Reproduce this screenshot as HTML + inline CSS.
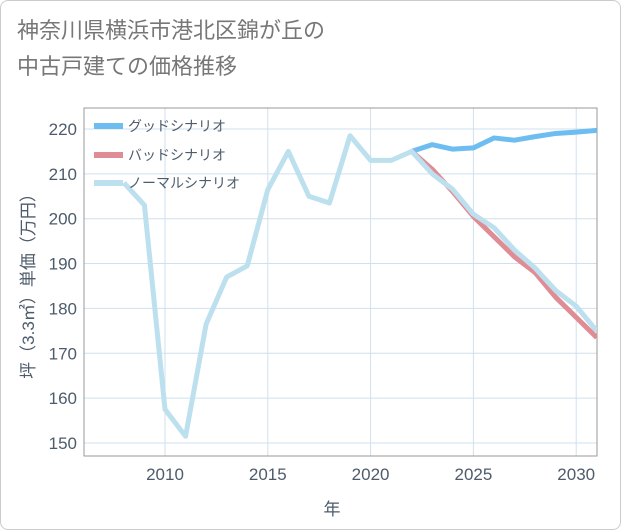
<!DOCTYPE html>
<html><head><meta charset="utf-8"><style>
body{margin:0;background:#fff;}
.wrap{position:relative;width:619px;height:528px;border:1px solid #ccc;border-radius:8px;background:#fff;overflow:hidden;}
.title{position:absolute;left:16px;top:12px;font:22px "Liberation Sans","Noto Sans CJK JP",sans-serif;color:#777;line-height:36px;}
svg text{font-family:"Liberation Sans","Noto Sans CJK JP",sans-serif;}
</style></head><body>
<div class="wrap">
<div class="title">神奈川県横浜市港北区錦が丘の<br>中古戸建ての価格推移</div>
<svg id="chart" width="621" height="530" style="position:absolute;left:-1px;top:-1px"></svg>
</div>
<script>
const years=[2006,2010,2015,2020,2025,2030];
const yTicks=[150,160,170,180,190,200,210,220];
const normalYears=[2008,2009,2010,2011,2012,2013,2014,2015,2016,2017,2018,2019,2020,2021,2022,2023,2024,2025,2026,2027,2028,2029,2030,2031];
const normalVals=[208,203,157.5,151.5,176.5,187,189.5,206.5,215,205,203.5,218.5,213,213,215,210,206.5,201,198,193,189,184,180.5,175];
const scenYears=[2022,2023,2024,2025,2026,2027,2028,2029,2030,2031];
const goodVals=[215,216.5,215.5,215.8,218,217.5,218.3,219,219.3,219.7];
const badVals=[215,211,206,200.5,196,191.5,188,182.5,178,173.5];
const NS='http://www.w3.org/2000/svg';
const svg=document.getElementById('chart');
const L=84,R=597,T=108,B=456;
const x=yr=>165+(yr-2010)*20.56;
const y=v=>443-(v-150)*4.486;
const TXT='#4d5b6b';
function mk(tag,attrs,parent){const e=document.createElementNS(NS,tag);for(const k in attrs)e.setAttribute(k,attrs[k]);(parent||svg).appendChild(e);return e;}
const grid=mk('g',{});


yTicks.forEach(t=>{
 mk('line',{x1:L,x2:R,y1:y(t),y2:y(t),stroke:'#cfe0ee','stroke-width':1},grid);
 const tx=mk('text',{x:L-7,y:y(t)+6,'text-anchor':'end','font-size':17,fill:TXT});
 tx.textContent=t;
 
 
});
years.slice(1).forEach(t=>{
 mk('line',{x1:x(t),x2:x(t),y1:T,y2:B,stroke:'#cfe0ee','stroke-width':1},grid);
 const tx=mk('text',{x:x(t),y:B+24,'text-anchor':'middle','font-size':17,fill:TXT});
 tx.textContent=t;
 
 
});
const frame=mk('rect',{x:L,y:T,width:R-L,height:B-T,fill:'none',stroke:'#999','stroke-width':1});


const clip=mk('clipPath',{id:'c'});mk('rect',{x:L,y:T,width:R-L,height:B-T},clip);
function line(xs,vs,color,name){
 const p=mk('polyline',{points:xs.map((a,i)=>x(a)+','+y(vs[i])).join(' '),fill:'none',stroke:color,'stroke-width':5,'stroke-linejoin':'round','clip-path':'url(#c)'});
 
 
}
line(scenYears,goodVals,'#6ebdf0','good-scenario-line');
line(scenYears,badVals,'#e08c94','bad-scenario-line');
line(normalYears,normalVals,'#bde0ee','normal-scenario-line');
const leg=[['グッドシナリオ','#6ebdf0',126],['バッドシナリオ','#e08c94',155],['ノーマルシナリオ','#bde0ee',183]];
leg.forEach(([t,c,yy])=>{
 const g=mk('g',{});
 
 
 mk('line',{x1:94,x2:123,y1:yy,y2:yy,stroke:c,'stroke-width':6},g);
 const tx=mk('text',{x:128,y:yy+5,'font-size':14,fill:TXT},g);tx.textContent=t;
});
const yt=mk('text',{transform:'translate(34,282) rotate(-90)','text-anchor':'middle','font-size':17,fill:TXT});
yt.textContent='坪（3.3㎡）単価（万円）';


const xt=mk('text',{x:332,y:515,'text-anchor':'middle','font-size':17,fill:TXT});
xt.textContent='年';


</script>
</body></html>
